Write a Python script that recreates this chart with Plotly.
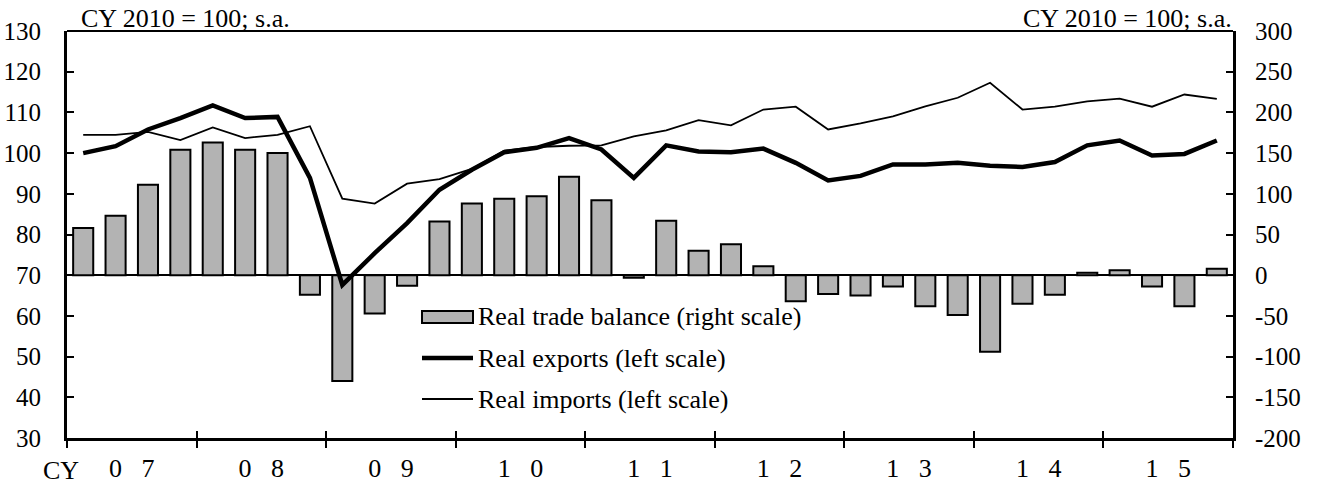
import numpy as np
import plotly.graph_objects as go

# quarterly data, CY2007 Q1 .. CY2015 Q4
years = ["0\u00a0\u00a0\u00a07", "0\u00a0\u00a0\u00a08", "0\u00a0\u00a0\u00a09",
         "1\u00a0\u00a0\u00a00", "1\u00a0\u00a0\u00a01", "1\u00a0\u00a0\u00a02",
         "1\u00a0\u00a0\u00a03", "1\u00a0\u00a0\u00a04", "1\u00a0\u00a0\u00a05"]

# real trade balance (right scale)
balance = [58, 73, 111, 154,
           163, 154, 150, -24,
           -130, -47, -13, 66,
           88, 94, 97, 121,
           92, -3, 67, 30,
           38, 11, -32, -23,
           -25, -14, -38, -49,
           -94, -35, -24, 3,
           6, -14, -38, 8]

# real exports (left scale)
exports = [100.0, 101.7, 105.8, 108.6,
           111.7, 108.6, 108.9, 93.9,
           67.6, 75.4, 82.8, 91.0,
           95.9, 100.2, 101.3, 103.7,
           100.9, 93.9, 101.9, 100.4,
           100.2, 101.1, 97.6, 93.3,
           94.4, 97.2, 97.2, 97.6,
           96.9, 96.6, 97.8, 101.9,
           103.1, 99.4, 99.8, 103.1]

# real imports (left scale)
imports = [104.5, 104.5, 105.2, 103.2,
           106.3, 103.7, 104.5, 106.6,
           88.8, 87.6, 92.5, 93.6,
           96.1, 100.6, 101.5, 101.8,
           101.9, 104.1, 105.6, 108.1,
           106.8, 110.7, 111.4, 105.8,
           107.3, 109.0, 111.5, 113.6,
           117.3, 110.7, 111.4, 112.7,
           113.4, 111.4, 114.4, 113.3]

names = ["Real trade balance (right scale)", "Real exports (left scale)", "Real imports (left scale)"]

left_ticks = list(range(30, 131, 10))
right_ticks = list(range(-200, 301, 50))

FONT = "Liberation Serif, Times New Roman, serif"
FS = 26
TICK_FS = 25
BAR_GREY = "#b3b3b3"
W, H = 1318, 489
ML, MR, MT, MB = 67, 85, 31, 51
PW, PH = W - ML - MR, H - MT - MB


def px(xp):
    return (xp - ML) / PW


def py(yp):
    return (H - MB - yp) / PH


x = np.arange(len(balance))
year_edges = np.arange(-0.5, len(balance) + 0.5, 4)
year_mids = np.arange(1.5, len(balance), 4)
xrange = [-0.5, len(balance) - 0.5]

fig = go.Figure()

fig.add_trace(go.Bar(
    x=x, y=balance, name=names[0], xaxis="x", yaxis="y", width=0.62,
    marker=dict(color=BAR_GREY, line=dict(color="black", width=2)),
))
fig.add_trace(go.Scatter(
    x=x, y=exports, name=names[1], xaxis="x", yaxis="y2", mode="lines",
    line=dict(color="black", width=4.5),
))
fig.add_trace(go.Scatter(
    x=x, y=imports, name=names[2], xaxis="x", yaxis="y2", mode="lines",
    line=dict(color="black", width=1.8),
))
# empty traces so the overlay x axes (inner ticks, year labels) get drawn
for ax in ["x2", "x3"]:
    fig.add_trace(go.Scatter(x=x, y=[None] * len(x), xaxis=ax, yaxis="y",
                             mode="lines", hoverinfo="skip", showlegend=False))

# legend drawn by hand: wide bar swatch and two line swatches
legend_rows = [317, 358, 399]
shapes = [
    dict(type="line", xref="paper", yref="paper", x0=0, x1=1, y0=1, y1=1,
         line=dict(color="black", width=2)),
    dict(type="rect", xref="paper", yref="paper", x0=px(422), x1=px(473),
         y0=py(legend_rows[0] - 6), y1=py(legend_rows[0] + 6),
         fillcolor=BAR_GREY, line=dict(color="black", width=2)),
    dict(type="line", xref="paper", yref="paper", x0=px(422), x1=px(473),
         y0=py(legend_rows[1]), y1=py(legend_rows[1]), line=dict(color="black", width=4.5)),
    dict(type="line", xref="paper", yref="paper", x0=px(422), x1=px(473),
         y0=py(legend_rows[2]), y1=py(legend_rows[2]), line=dict(color="black", width=1.8)),
]

annotations = [
    dict(text="CY 2010 = 100; s.a.", xref="paper", yref="paper", x=0.0105, y=1,
         xanchor="left", yanchor="bottom", showarrow=False, yshift=-4),
    dict(text="CY 2010 = 100; s.a.", xref="paper", yref="paper", x=1.0005, y=1,
         xanchor="right", yanchor="bottom", showarrow=False, yshift=-4),
    dict(text="CY", xref="paper", yref="paper", x=px(61), y=0,
         xanchor="center", yanchor="top", showarrow=False, yshift=-16),
]
for name, row in zip(names, legend_rows):
    annotations.append(dict(text=name, xref="paper", yref="paper", x=px(476), y=py(row),
                            xanchor="left", yanchor="middle", showarrow=False))

fig.update_layout(
    width=W, height=H,
    margin=dict(l=ML, r=MR, t=MT, b=MB),
    paper_bgcolor="white", plot_bgcolor="white",
    font=dict(family=FONT, size=FS, color="black"),
    showlegend=False,
    xaxis=dict(
        range=xrange, tickvals=year_edges, showticklabels=False,
        ticks="outside", ticklen=7, tickwidth=2, tickcolor="black",
        showline=True, linewidth=3, linecolor="black",
        showgrid=False, zeroline=False, anchor="y", automargin=False,
    ),
    xaxis2=dict(
        range=xrange, overlaying="x", side="bottom", anchor="y",
        tickvals=year_edges, showticklabels=False,
        ticks="inside", ticklen=7, tickwidth=2, tickcolor="black",
        showline=False, showgrid=False, zeroline=False, automargin=False,
    ),
    xaxis3=dict(
        range=xrange, overlaying="x", side="bottom", anchor="y",
        tickvals=year_mids, ticktext=years, ticks="",
        ticklabelstandoff=12, tickfont=dict(size=FS),
        showline=False, showgrid=False, zeroline=False, automargin=False,
    ),
    yaxis=dict(
        side="right", range=[-200, 300],
        tickvals=right_ticks, ticktext=[str(v) for v in right_ticks],
        ticks="inside", ticklen=7, tickwidth=2, tickcolor="black",
        showline=True, linewidth=3, linecolor="black",
        showgrid=False, zeroline=True, zerolinewidth=2, zerolinecolor="black",
        ticklabelstandoff=14, tickfont=dict(size=TICK_FS), anchor="x", automargin=False,
    ),
    yaxis2=dict(
        side="left", overlaying="y", range=[30, 130],
        tickvals=left_ticks, ticktext=[str(v) for v in left_ticks],
        ticks="inside", ticklen=7, tickwidth=2, tickcolor="black",
        showline=True, linewidth=3, linecolor="black",
        showgrid=False, zeroline=False,
        ticklabelstandoff=18, tickfont=dict(size=TICK_FS), anchor="x", automargin=False,
    ),
    shapes=shapes,
    annotations=annotations,
)

# drop the browser's default body margin so the figure sits at the page origin
fig.write_html("out.html", config={"displayModeBar": False},
               post_script="document.body.style.margin = '0';")
